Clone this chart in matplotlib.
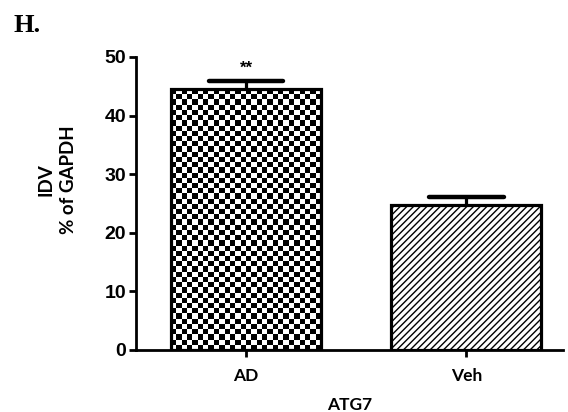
import numpy as np
import matplotlib
matplotlib.use("Agg")
import matplotlib.pyplot as plt

# Data
groups = ["AD", "Veh"]
means = [44.5, 24.7]
sems = [1.4, 1.4]
yticks = [0, 10, 20, 30, 40, 50]

plt.rcParams["hatch.linewidth"] = 1.0
fig = plt.figure(figsize=(5.68, 4.12), dpi=100)
ax = fig.add_axes([0.2394, 0.1505, 0.752, 0.7112])

x = np.arange(len(groups))
bars = ax.bar(x, means, width=0.68, facecolor="white", edgecolor="black",
              linewidth=2.3, zorder=3)
bars[0].set_facecolor("none")
bars[1].set_hatch("/////")

# Checkerboard fill for the first bar
b = bars[0]
x0, w, h = b.get_x(), b.get_width(), b.get_height()
nx, ny = 28, 50
checker = (np.add.outer(np.arange(ny), np.arange(nx)) % 2).astype(float)
im = ax.imshow(checker, cmap="gray", interpolation="nearest", aspect="auto",
               extent=[x0, x0 + w, 0, h], zorder=2)
im.set_clip_path(b)

# Upper error bars only: stem plus cap
tops = [m + s for m, s in zip(means, sems)]
ax.vlines(x, means, tops, color="black", linewidth=2.3, zorder=4)
ax.hlines(tops, x - 0.17, x + 0.17, color="black", linewidth=3.2,
          capstyle="round", zorder=4)

ax.text(x[0], tops[0] + 0.9, "**", ha="center", va="bottom",
        fontsize=12, fontweight="bold", family="Liberation Sans")

ax.set_xlim(-0.5, 1.44)
ax.set_ylim(0, 50)
ax.set_yticks(yticks)
ax.set_xticks(x)
ax.set_xticklabels(groups, family="Lato", fontweight="bold", fontsize=12.5)
for lab in ax.get_yticklabels():
    lab.set_family("Liberation Sans")
    lab.set_fontweight("bold")
    lab.set_fontsize(14)

for s in ["top", "right"]:
    ax.spines[s].set_visible(False)
for s in ["left", "bottom"]:
    ax.spines[s].set_linewidth(2.0)
ax.tick_params(axis="y", length=5, width=2.0, pad=2)
ax.tick_params(axis="x", length=5, width=2.0, pad=8)

ax.set_xlabel("ATG7", family="Lato", fontweight="bold", fontsize=12.5, labelpad=9)
ax.set_ylabel("IDV\n% of GAPDH", family="Lato", fontweight="bold", fontsize=13.5,
              labelpad=20, linespacing=1.35)
ax.yaxis.label.set_y(0.58)

fig.text(0.024, 0.965, "H.", family="Liberation Serif", fontweight="bold",
         fontsize=19, va="top", ha="left")

fig.savefig("out.png", dpi=100)
